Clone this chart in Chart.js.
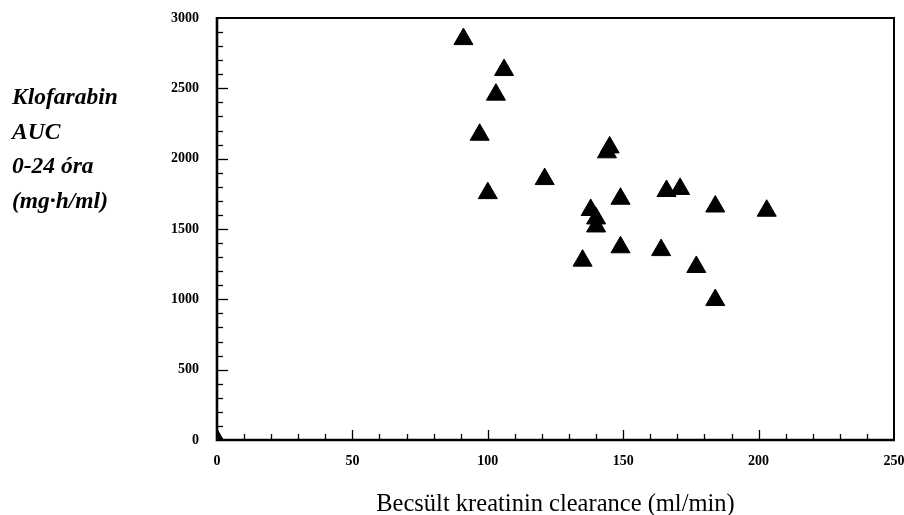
<!DOCTYPE html>
<html>
<head>
<meta charset="utf-8">
<script src="https://cdn.jsdelivr.net/npm/chart.js@4"></script>
<style>
  html, body { margin: 0; padding: 0; background: #fff; overflow: hidden; }
  #wrap { width: 904px; height: 515px; overflow: hidden; }
  canvas { display: block; }
</style>
</head>
<body>
<div id="wrap"><canvas id="scatterChart" width="906" height="515"></canvas></div>
<script>
// data
const clearance = [0, 91, 106, 103, 97, 144, 145, 121, 100, 149, 166, 171, 184, 138, 140, 140, 149, 164, 135, 177, 184, 203];
const aucValues = [0, 2850, 2630, 2455, 2170, 2045, 2080, 1855, 1755, 1715, 1770, 1785, 1660, 1635, 1575, 1518, 1370, 1350, 1275, 1230, 995, 1630];
const yTitleLines = ['Klofarabin', 'AUC', '0-24 óra', '(mg·h/ml)'];
const xTitle = 'Becsült kreatinin clearance (ml/min)';

const serif = '"Liberation Serif", "Times New Roman", serif';

// frame, inward tick marks and the left-hand title
const framePlugin = {
  id: 'frame',
  afterDraw(chart) {
    const { ctx, chartArea: a, scales: { x, y } } = chart;
    ctx.save();
    ctx.strokeStyle = '#000';
    ctx.lineCap = 'butt';

    // minor / major ticks pointing into the plot
    ctx.lineWidth = 1.3;
    for (let v = 10; v < 250; v += 10) {
      const px = Math.round(x.getPixelForValue(v)) + 0.5;
      const len = v % 50 === 0 ? 10 : 6;
      ctx.beginPath();
      ctx.moveTo(px, a.bottom);
      ctx.lineTo(px, a.bottom - len);
      ctx.stroke();
    }
    for (let v = 100; v < 3000; v += 100) {
      const py = Math.round(y.getPixelForValue(v)) + 0.5;
      const len = v % 500 === 0 ? 11 : 6;
      ctx.beginPath();
      ctx.moveTo(a.left, py);
      ctx.lineTo(a.left + len, py);
      ctx.stroke();
    }

    // top and right border
    ctx.lineWidth = 2;
    ctx.beginPath();
    ctx.moveTo(a.left, a.top);
    ctx.lineTo(a.right, a.top);
    ctx.lineTo(a.right, a.bottom);
    ctx.stroke();

    // axes
    ctx.lineWidth = 2.6;
    ctx.beginPath();
    ctx.moveTo(a.left, a.top - 1);
    ctx.lineTo(a.left, a.bottom);
    ctx.lineTo(a.right + 1, a.bottom);
    ctx.stroke();

    // y title, horizontal, four lines
    ctx.fillStyle = '#000';
    ctx.font = 'italic bold 23.5px ' + serif;
    ctx.textAlign = 'left';
    ctx.textBaseline = 'alphabetic';
    yTitleLines.forEach((t, i) => ctx.fillText(t, 12, 104 + i * 34.7));
    ctx.restore();
  }
};

const plain = v => String(v);

new Chart(document.getElementById('scatterChart').getContext('2d'), {
  type: 'scatter',
  data: {
    datasets: [{
      data: clearance.map((c, i) => ({ x: c, y: aucValues[i] })),
      pointStyle: 'triangle',
      pointRadius: 11,
      pointHoverRadius: 11,
      backgroundColor: '#000',
      borderColor: '#000',
      borderWidth: 1,
      clip: 0
    }]
  },
  options: {
    responsive: false,
    animation: false,
    devicePixelRatio: 1,
    layout: { padding: { top: 18, right: 0, bottom: 0, left: 0 } },
    plugins: { legend: { display: false }, tooltip: { enabled: false } },
    scales: {
      x: {
        type: 'linear',
        min: 0, max: 250,
        ticks: { stepSize: 50, color: '#000', padding: 5, maxRotation: 0, callback: plain,
                 font: { family: serif, size: 14, weight: 'bold' } },
        grid: { display: false },
        border: { display: false },
        title: { display: true, text: xTitle, color: '#000', padding: { top: 0, bottom: -4 },
                 font: { family: serif, size: 24.5 } },
        afterFit(scale) {
          scale.height = 75;
          scale.paddingLeft = 0;
          scale.paddingRight = 0;
        }
      },
      y: {
        type: 'linear',
        min: 0, max: 3000,
        ticks: { stepSize: 500, color: '#000', padding: 10, callback: plain,
                 font: { family: serif, size: 14, weight: 'bold' } },
        grid: { display: false },
        border: { display: false },
        afterFit(scale) {
          scale.width = 217;
          scale.paddingTop = 0;
          scale.paddingBottom = 0;
        }
      }
    }
  },
  plugins: [framePlugin]
});
</script>
</body>
</html>
